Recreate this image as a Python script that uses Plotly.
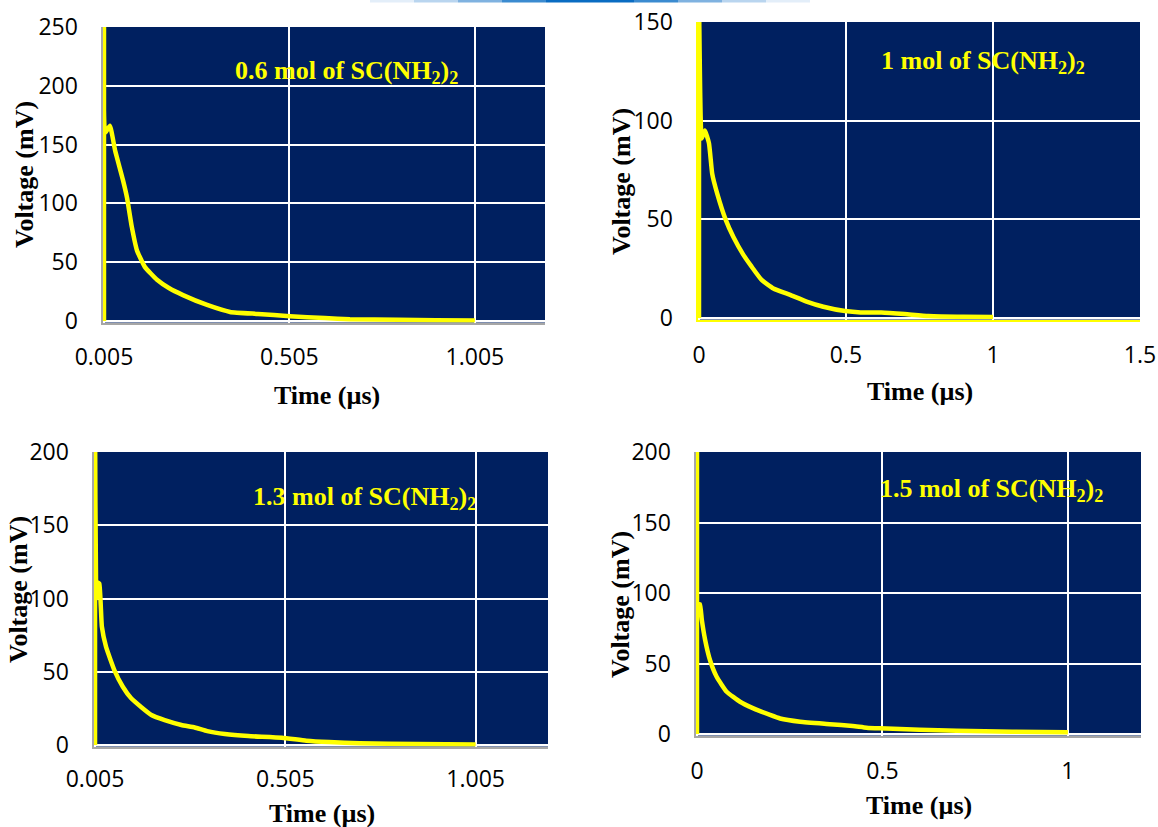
import plotly.graph_objects as go

W, H = 1158, 827

# ---------------- data ----------------
t06 = [0.005, 0.005, 0.008, 0.021, 0.035, 0.056, 0.067, 0.080, 0.094, 0.115, 0.148, 0.18, 0.218,
       0.283, 0.345, 0.42, 0.506, 0.6, 0.668, 0.8, 0.9, 1.005]
v06 = [0, 320, 160, 166, 145, 120, 105, 80, 60, 46, 35, 28, 22,
       13.6, 7.7, 6, 4, 2.5, 1.5, 1, 0.7, 0.5]

t10 = [0, 0, 0.009, 0.02, 0.034, 0.045, 0.062, 0.091, 0.117, 0.151, 0.179, 0.213, 0.253, 0.31,
       0.366, 0.423, 0.497, 0.55, 0.62, 0.7, 0.78, 0.9, 1.0]
v10 = [0, 160, 91, 95, 88.5, 73, 63, 49.7, 41, 32, 26, 19.3, 15, 11.7,
       8.3, 5.7, 3.5, 2.8, 2.8, 2, 1, 0.6, 0.5]

t13 = [0.005, 0.005, 0.008, 0.012, 0.0164, 0.023, 0.034, 0.056, 0.078, 0.1, 0.126, 0.153, 0.188,
       0.232, 0.267, 0.30, 0.346, 0.408, 0.496, 0.56, 0.62, 0.7, 0.85, 1.005]
v13 = [0, 230, 100, 111, 110, 80.8, 67, 51, 39.8, 31.9, 26, 20.5, 17,
       13.7, 12, 9.5, 7.5, 6.1, 5, 3, 2, 1.2, 0.7, 0.4]

t15 = [0, 0, 0.002, 0.008, 0.013, 0.022, 0.035, 0.053, 0.08, 0.116, 0.152, 0.197, 0.224, 0.278,
       0.358, 0.42, 0.457, 0.493, 0.6, 0.7, 0.85, 1.0]
v15 = [0, 220, 92, 92, 81, 66.7, 52.5, 40.6, 30, 22.9, 18.2, 13.5, 11, 8.7,
       7, 5.7, 4.5, 4, 3, 2.3, 1.6, 1.2]

labels = ["0.6 mol of SC(NH<sub>2</sub>)<sub>2</sub>",
          "1 mol of SC(NH<sub>2</sub>)<sub>2</sub>",
          "1.3 mol of SC(NH<sub>2</sub>)<sub>2</sub>",
          "1.5 mol of SC(NH<sub>2</sub>)<sub>2</sub>"]

xt_a = [0.005, 0.505, 1.005]
xt_a_txt = ["0.005", "0.505", "1.005"]
xt_b = [0, 0.5, 1, 1.5]
xt_b_txt = ["0", "0.5", "1", "1.5"]
xt_c = [0, 0.5, 1]
xt_c_txt = ["0", "0.5", "1"]
yt_250 = [0, 50, 100, 150, 200, 250]
yt_150 = [0, 50, 100, 150]
yt_200 = [0, 50, 100, 150, 200]

x_title = "Time (µs)"
y_title = "Voltage (mV)"

# ---------------- layout helpers ----------------
def px(x):
    return x / W

def py(y):
    return 1 - y / H

NAVY = "#002060"
YEL = "#FFFF00"
TICKFONT = dict(family="Open Sans, Liberation Sans, sans-serif", size=23, color="#000000")
TITLEFONT = dict(family="Liberation Serif, Times New Roman, serif", size=26, color="#000000")
LBLFONT = dict(family="Liberation Serif, Times New Roman, serif", size=26, color=YEL)

panels = [
    dict(t=t06, v=v06, xd=(102.5, 545), yd=(27, 322.5), xr=(0.001, 1.194), yr=(-1.3, 250),
         xt=(xt_a, xt_a_txt), yt=yt_250, lab=(346, 72), xtp=(327, 395), ytp=(25, 175),
         line="#A6A6A6", xso=13),
    dict(t=t10, v=v10, xd=(697.5, 1140), yd=(22, 319.5), xr=(-0.0051, 1.5), yr=(-0.76, 150),
         xt=(xt_b, xt_b_txt), yt=yt_150, lab=(983, 62), xtp=(920, 391), ytp=(622, 181),
         line=YEL, xso=14),
    dict(t=t13, v=v13, xd=(93.5, 548), yd=(452, 746.5), xr=(0.001, 1.195), yr=(-1.0, 200),
         xt=(xt_a, xt_a_txt), yt=yt_200, lab=(364, 498), xtp=(322, 813), ytp=(18, 590),
         line="#A6A6A6", xso=11),
    dict(t=t15, v=v15, xd=(695.5, 1141), yd=(452, 735.5), xr=(-0.004, 1.197), yr=(-1.06, 200),
         xt=(xt_c, xt_c_txt), yt=yt_200, lab=(991, 490), xtp=(919, 805), ytp=(620, 605),
         line="#A6A6A6", xso=14),
]

fig = go.Figure()
annotations = []
layout_axes = {}

for i, p in enumerate(panels, start=1):
    sx = "" if i == 1 else str(i)
    fig.add_trace(go.Scatter(x=p["t"], y=p["v"], mode="lines",
                             line=dict(color=YEL, width=4.5, shape="spline", smoothing=0.4),
                             xaxis="x" + sx, yaxis="y" + sx, showlegend=False,
                             hoverinfo="skip"))
    layout_axes["xaxis" + sx] = dict(
        domain=[px(p["xd"][0]), px(p["xd"][1])], range=list(p["xr"]), anchor="y" + sx,
        tickmode="array", tickvals=p["xt"][0], ticktext=p["xt"][1],
        showgrid=True, gridcolor="#FFFFFF", gridwidth=1.5, zeroline=False,
        showline=True, linecolor=p["line"], linewidth=2, ticks="",
        tickfont=TICKFONT, ticklabelstandoff=p["xso"], fixedrange=True, automargin=False)
    layout_axes["yaxis" + sx] = dict(
        domain=[py(p["yd"][1]), py(p["yd"][0])], range=list(p["yr"]), anchor="x" + sx,
        tickmode="array", tickvals=p["yt"],
        showgrid=True, gridcolor="#FFFFFF", gridwidth=1.5, zeroline=False,
        showline=True, linecolor=p["line"], linewidth=2, ticks="",
        tickfont=TICKFONT, ticklabelstandoff=18, fixedrange=True, automargin=False)
    annotations.append(dict(text="<b>" + labels[i - 1] + "</b>", x=px(p["lab"][0]), y=py(p["lab"][1]),
                            xref="paper", yref="paper", showarrow=False, font=LBLFONT,
                            xanchor="center", yanchor="middle"))
    annotations.append(dict(text="<b>" + x_title + "</b>", x=px(p["xtp"][0]), y=py(p["xtp"][1]),
                            xref="paper", yref="paper", showarrow=False, font=TITLEFONT,
                            xanchor="center", yanchor="middle"))
    annotations.append(dict(text="<b>" + y_title + "</b>", x=px(p["ytp"][0]), y=py(p["ytp"][1]),
                            xref="paper", yref="paper", showarrow=False, font=TITLEFONT,
                            textangle=-90, xanchor="center", yanchor="middle"))

# decorative fading blue rule at the top of the slide
rule_cols = ["#e3eef9", "#b9d5ef", "#7fb2e0", "#3b8bd0", "#0a6cc2", "#0a6cc2", "#3b8bd0", "#7fb2e0", "#b9d5ef", "#e3eef9"]
x0, x1 = 370, 810
seg = (x1 - x0) / len(rule_cols)
shapes = []
for k, c in enumerate(rule_cols):
    shapes.append(dict(type="line", xref="paper", yref="paper",
                       x0=px(x0 + k * seg), x1=px(x0 + (k + 1) * seg), y0=py(1), y1=py(1),
                       line=dict(color=c, width=3)))

fig.update_layout(width=W, height=H, margin=dict(l=0, r=0, t=0, b=0, pad=0, autoexpand=False),
                  paper_bgcolor="#FFFFFF", plot_bgcolor=NAVY,
                  annotations=annotations, shapes=shapes, **layout_axes)

fig.write_html("out.html", config={"displayModeBar": False})
